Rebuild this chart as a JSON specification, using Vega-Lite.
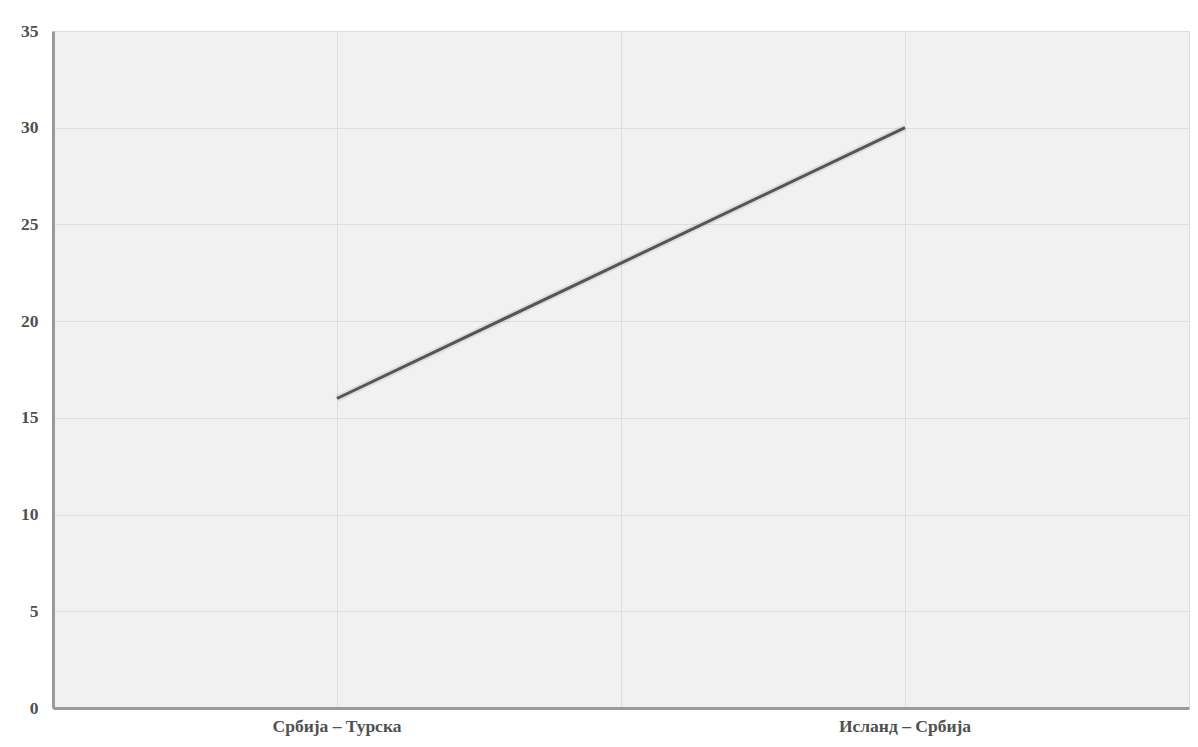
{
  "$schema": "https://vega.github.io/schema/vega-lite/v6.json",
  "width": 1136,
  "height": 677,
  "autosize": "none",
  "padding": {"left": 53, "top": 31, "right": 9, "bottom": 39},
  "background": "white",
  "config": {
    "view": {"fill": "#f1f1f1", "stroke": null},
    "font": "Liberation Serif",
    "axis": {
      "labelFont": "Liberation Serif",
      "labelFontWeight": "bold",
      "labelFontSize": 17.5,
      "labelColor": "#505050",
      "gridColor": "#dedede",
      "gridWidth": 1,
      "domainColor": "#9a9a9a",
      "domainWidth": 3,
      "ticks": false,
      "title": null
    }
  },
  "data": {
    "values": [
      {"match": "Србија – Турска", "value": 16},
      {"match": "Исланд – Србија", "value": 30}
    ]
  },
  "layer": [
    {
      "encoding": {
        "x": {
          "field": "match", "type": "nominal", "sort": null,
          "scale": {"type": "band", "paddingInner": 0, "paddingOuter": 0},
          "axis": {"grid": true, "labelPadding": 9, "labelAngle": 0, "domain": true}
        },
        "y": {
          "field": "value", "type": "quantitative",
          "scale": {"domain": [0, 35], "nice": false, "zero": true},
          "axis": {"values": [0, 5, 10, 15, 20, 25, 30, 35], "grid": true, "labelPadding": 15, "domain": true}
        }
      },
      "layer": [
        {"mark": {"type": "line", "color": "#000000", "strokeWidth": 7, "opacity": 0.08}},
        {"mark": {"type": "line", "color": "#555555", "strokeWidth": 3}}
      ]
    },
    {
      "mark": {"type": "line", "opacity": 0},
      "encoding": {
        "x": {
          "field": "match", "type": "nominal", "sort": null,
          "axis": {"orient": "bottom", "tickBand": "extent", "grid": true, "labels": false, "domain": false, "ticks": false}
        },
        "y": {"field": "value", "type": "quantitative"}
      }
    }
  ],
  "resolve": {"axis": {"x": "independent"}}
}
